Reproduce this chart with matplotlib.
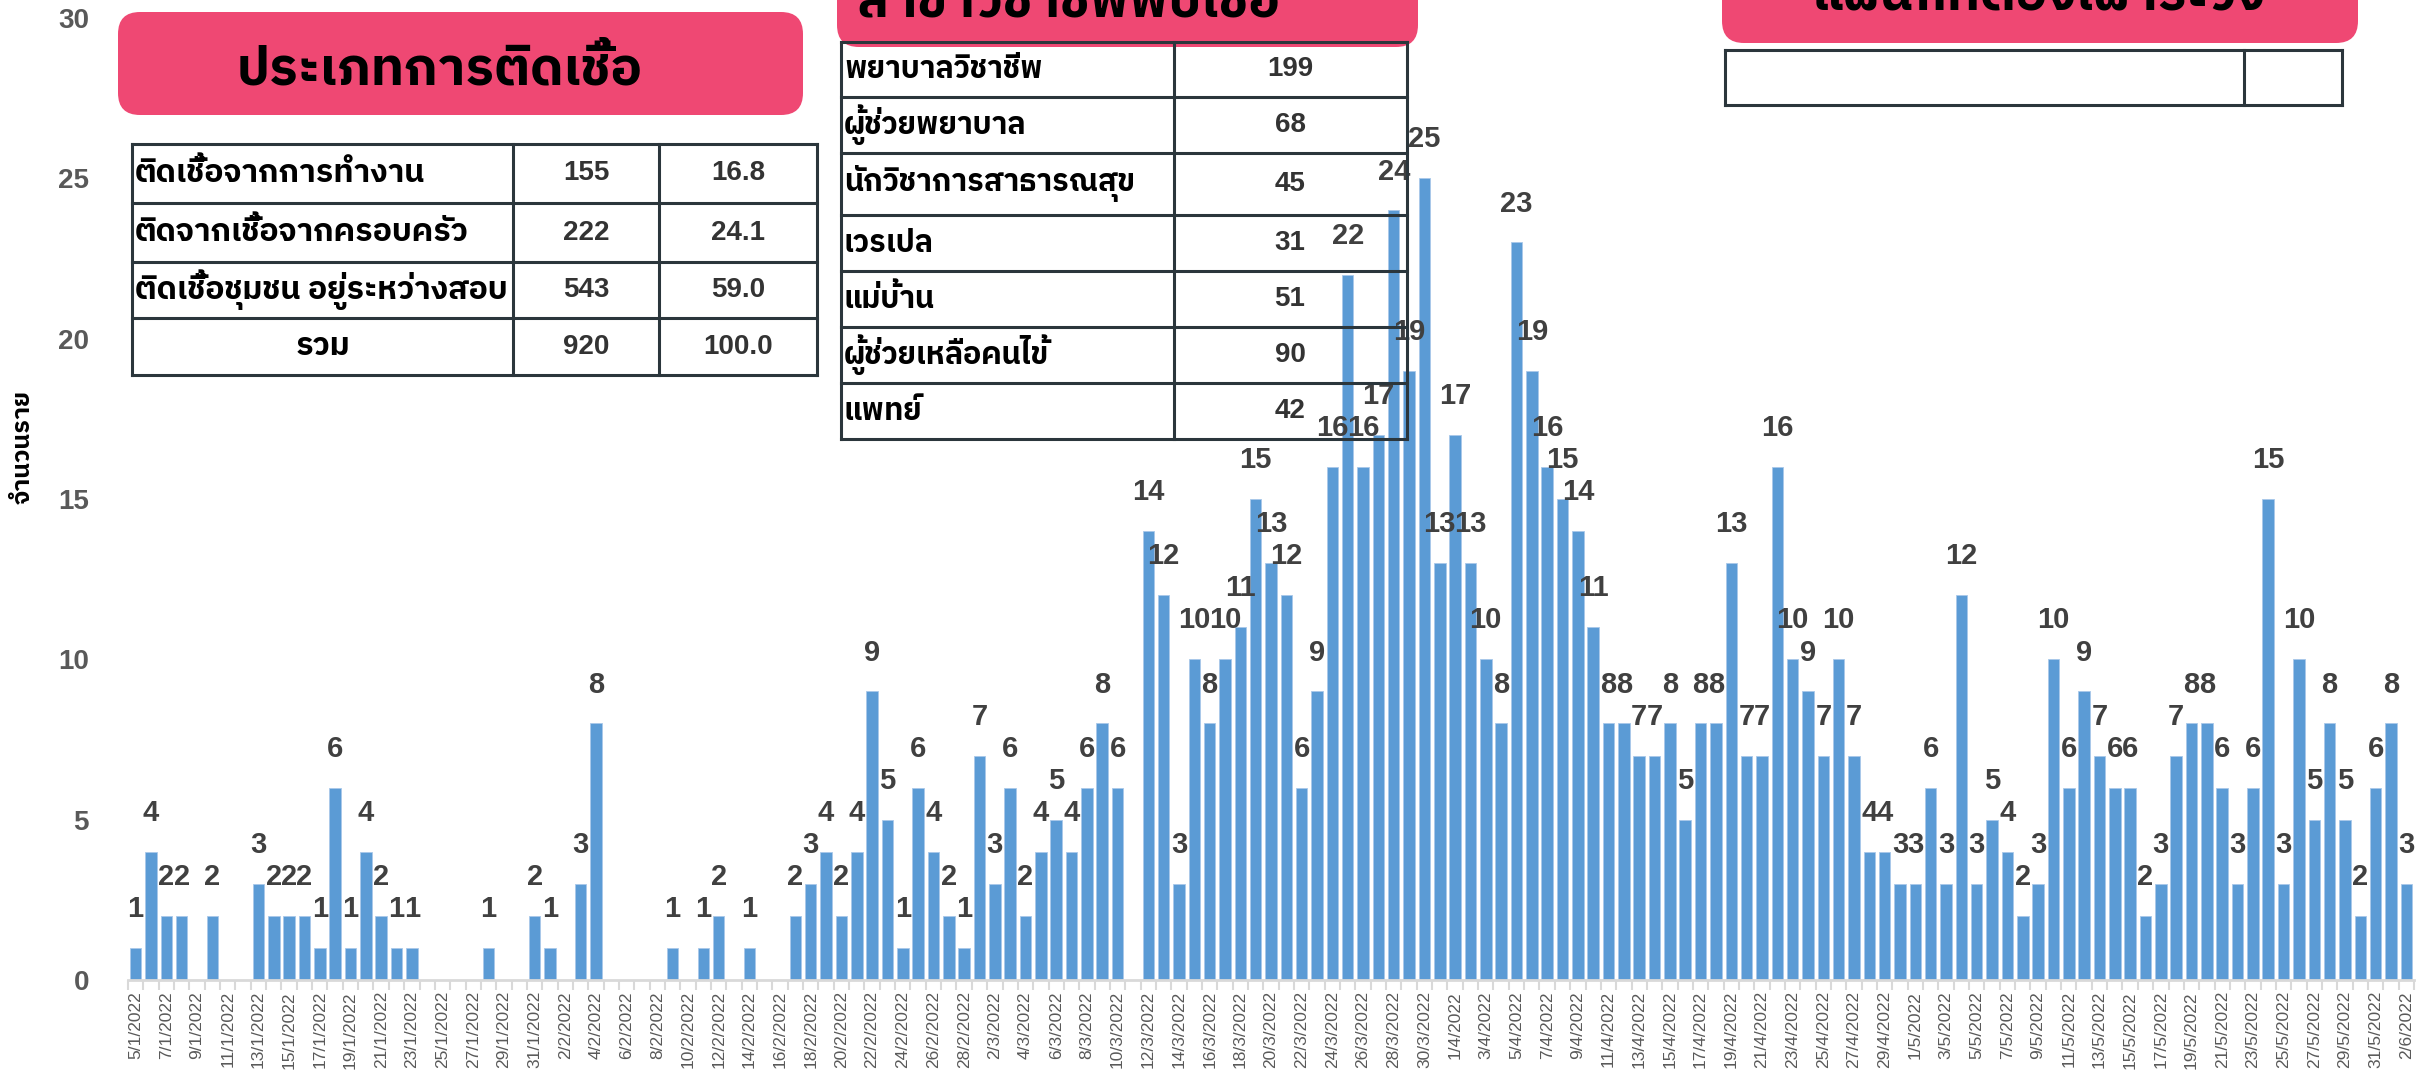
import numpy as np
import pandas as pd
import matplotlib
matplotlib.use("Agg")
import matplotlib.pyplot as plt
from matplotlib import font_manager, ft2font
from matplotlib.patches import FancyBboxPatch

# ---------------- data ----------------
start_date = "2022-01-05"
end_date = "2022-06-02"
daily_cases = [
    # Jan 5-31
    1, 4, 2, 2, 0, 2, 0, 0, 3, 2, 2, 2, 1, 6, 1, 4, 2, 1, 1, 0, 0, 0, 0, 1, 0, 0, 2,
    # Feb 1-28
    1, 0, 3, 8, 0, 0, 0, 0, 1, 0, 1, 2, 0, 1, 0, 0, 2, 3, 4, 2, 4, 9, 5, 1, 6, 4, 2, 1,
    # Mar 1-31
    7, 3, 6, 2, 4, 5, 4, 6, 8, 6, 0, 14, 12, 3, 10, 8, 10, 11, 15, 13, 12, 6, 9, 16, 22, 16, 17, 24, 19, 25, 13,
    # Apr 1-30
    17, 13, 10, 8, 23, 19, 16, 15, 14, 11, 8, 8, 7, 7, 8, 5, 8, 8, 13, 7, 7, 16, 10, 9, 7, 10, 7, 4, 4, 3,
    # May 1-31
    3, 6, 3, 12, 3, 5, 4, 2, 3, 10, 6, 9, 7, 6, 6, 2, 3, 7, 8, 8, 6, 3, 6, 15, 3, 10, 5, 8, 5, 2, 6,
    # Jun 1-2
    8, 3,
]
dates = pd.date_range(start_date, end_date, freq="D")
date_labels = [f"{d.day}/{d.month}/{d.year}" for d in dates]
assert len(dates) == len(daily_cases)

y_ticks = [0, 5, 10, 15, 20, 25, 30]
y_label = "จำนวนราย"

type_title = "ประเภทการติดเชื้อ"
type_names = ["ติดเชื้อจากการทำงาน", "ติดจากเชื้อจากครอบครัว", "ติดเชื้อชุมชน อยู่ระหว่างสอบ", "รวม"]
type_counts = ["155", "222", "543", "920"]
type_pcts = ["16.8", "24.1", "59.0", "100.0"]

prof_title = "สาขาวิชาชีพพบเชื้อ"
prof_names = ["พยาบาลวิชาชีพ", "ผู้ช่วยพยาบาล", "นักวิชาการสาธารณสุข", "เวรเปล", "แม่บ้าน", "ผู้ช่วยเหลือคนไข้", "แพทย์"]
prof_counts = ["199", "68", "45", "31", "51", "90", "42"]

dept_title = "แผนกที่ต้องเฝ้าระวัง"

# ---------------- fonts ----------------
def find_thai_family():
    found = []
    for fe in font_manager.fontManager.ttflist:
        try:
            cm = ft2font.FT2Font(fe.fname).get_charmap()
        except Exception:
            continue
        if 0x0E01 in cm and 0x0E17 in cm and 0x0E49 in cm:
            found.append(fe.name)
    found = sorted(set(found), key=lambda n: (0 if "Thai" in n else 1, n))
    return found[0] if found else None

thai = find_thai_family()
NUM_FAM = ["Liberation Sans", "DejaVu Sans"]
THAI_FAM = ([thai] if thai else []) + ["Liberation Sans", "DejaVu Sans"]
plt.rcParams["font.family"] = NUM_FAM

BAR_C = "#5B9BD5"
PINK = "#EF4873"
GRID_C = "#2B363C"
LABEL_C = "#404040"
TICK_C = "#595959"

W, H = 2432, 1076
fig = plt.figure(figsize=(W / 100, H / 100), dpi=100)

# ---------------- main chart ----------------
ax_l, ax_r, ax_t, ax_b = 128, 2414, 18, 980
ax = fig.add_axes([ax_l / W, 1 - ax_b / H, (ax_r - ax_l) / W, (ax_b - ax_t) / H])
x = np.arange(len(daily_cases))
ax.bar(x, daily_cases, width=0.75, color=BAR_C, edgecolor="#A9C8EA", linewidth=0.6, zorder=2)
for xi, v in zip(x, daily_cases):
    if v > 0:
        ax.annotate(str(v), (xi, v), xytext=(0, 28), textcoords="offset points",
                    ha="center", va="center", fontsize=21, fontweight="bold",
                    color=LABEL_C, zorder=3)
ax.set_xlim(-0.5, len(daily_cases) - 0.5)
ax.set_ylim(0, 30)
ax.set_yticks(y_ticks)
ax.set_yticklabels([str(t) for t in y_ticks], fontsize=20, fontweight="bold", color=TICK_C)
ax.tick_params(axis="y", length=0, pad=28)
major = x[::2]
ax.set_xticks(major)
ax.set_xticklabels([date_labels[i] for i in major], rotation=90,
                   fontsize=12.5, color=TICK_C)
ax.set_xticks(np.arange(-0.5, len(daily_cases), 1), minor=True)
ax.tick_params(axis="x", which="major", length=0, pad=8)
ax.tick_params(axis="x", which="minor", length=7, width=1.5, color="#D9D9D9")
for s in ["top", "right", "left"]:
    ax.spines[s].set_visible(False)
ax.spines["bottom"].set_color("#D9D9D9")
ax.spines["bottom"].set_linewidth(2)
ax.patch.set_visible(False)

fig.text(23 / W, 1 - 447 / H, y_label, rotation=90, ha="center", va="center",
         fontsize=18, fontweight="bold", color="black", family=THAI_FAM)

# ---------------- overlay (pixel coordinates) ----------------
ov = fig.add_axes([0, 0, 1, 1])
ov.set_xlim(0, W)
ov.set_ylim(H, 0)
ov.axis("off")
ov.patch.set_visible(False)

def pink_box(x0, y0, x1, y1):
    ov.add_patch(FancyBboxPatch((x0, y0), x1 - x0, y1 - y0,
                                boxstyle="round,pad=0,rounding_size=22",
                                facecolor=PINK, edgecolor="none", zorder=1, clip_on=False))

def grid(xs, ys):
    kw = dict(color=GRID_C, lw=2.2, zorder=3, solid_capstyle="projecting")
    for yy in ys:
        ov.plot([xs[0], xs[-1]], [yy, yy], **kw)
    for xx in xs:
        ov.plot([xx, xx], [ys[0], ys[-1]], **kw)

# box 1
pink_box(118, 12, 803, 115)
ov.text(440, 70, type_title, ha="center", va="center", fontsize=38, fontweight="bold",
        color="black", family=THAI_FAM, zorder=4)
t1x = [132, 513, 659, 817]
t1y = [144, 203, 262, 318, 375]
grid(t1x, t1y)
for i in range(4):
    yc = (t1y[i] + t1y[i + 1]) / 2
    if i < 3:
        ov.text(t1x[0] + 3, yc, type_names[i], ha="left", va="center", fontsize=23,
                fontweight="bold", color="black", family=THAI_FAM, zorder=4)
    else:
        ov.text((t1x[0] + t1x[1]) / 2, yc, type_names[i], ha="center", va="center", fontsize=23,
                fontweight="bold", color="black", family=THAI_FAM, zorder=4)
    ov.text((t1x[1] + t1x[2]) / 2, yc, type_counts[i], ha="center", va="center", fontsize=20,
            fontweight="bold", color="#333333", zorder=4)
    ov.text((t1x[2] + t1x[3]) / 2, yc, type_pcts[i], ha="center", va="center", fontsize=20,
            fontweight="bold", color="#333333", zorder=4)

# box 2
pink_box(837, -70, 1418, 47)
ov.text(1068, 2, prof_title, ha="center", va="center", fontsize=38, fontweight="bold",
        color="black", family=THAI_FAM, zorder=4, clip_on=False)
t2x = [841, 1174, 1407]
t2y = [42, 97, 153, 215, 271, 327, 383, 439]
grid(t2x, t2y)
for i in range(7):
    yc = (t2y[i] + t2y[i + 1]) / 2
    ov.text(t2x[0] + 3, yc, prof_names[i], ha="left", va="center", fontsize=22,
            fontweight="bold", color="black", family=THAI_FAM, zorder=4)
    ov.text(1290, yc, prof_counts[i], ha="center", va="center", fontsize=20,
            fontweight="bold", color="#333333", zorder=4)

# box 3
pink_box(1722, -70, 2358, 43)
ov.text(2039, -5, dept_title, ha="center", va="center", fontsize=38, fontweight="bold",
        color="black", family=THAI_FAM, zorder=4, clip_on=False)
grid([1725, 2244, 2342], [50, 105])

fig.savefig("out.png", dpi=100)
